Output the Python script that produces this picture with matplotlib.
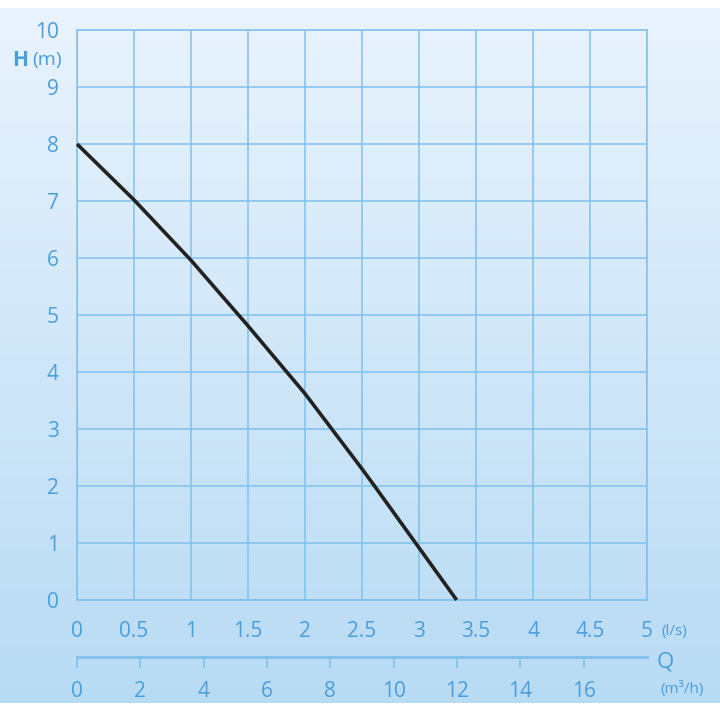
import numpy as np
import matplotlib.pyplot as plt
from matplotlib.colors import LinearSegmentedColormap

# pump curve
q_ls = [0, 0.5, 1.0, 1.5, 1.84, 2.0, 2.22, 2.5, 2.61, 2.97, 3.33]
h_m = [8.0, 7.02, 5.96, 4.81, 4.0, 3.62, 3.04, 2.3, 2.0, 1.0, 0.0]

ls_ticks = [0, 0.5, 1, 1.5, 2, 2.5, 3, 3.5, 4, 4.5, 5]
ls_labels = ['0', '0.5', '1', '1.5', '2', '2.5', '3', '3.5', '4', '4.5', '5']
m3h_ticks = [0, 2, 4, 6, 8, 10, 12, 14, 16]
h_ticks = list(range(0, 11))

grid_col = '#80c1ec'
text_col = '#4a9edc'
plt.rcParams['font.family'] = ['Open Sans', 'DejaVu Sans']

fig = plt.figure(figsize=(7.2, 7.2), dpi=100)
W = H = 720.0

# gradient background band
bg = fig.add_axes([0, 17 / H, 1, (712 - 17) / H])
cmap = LinearSegmentedColormap.from_list('bg', ['#b8dbf4', '#e9f3fd'])
bg.imshow(np.linspace(0, 1, 256).reshape(-1, 1), aspect='auto', cmap=cmap,
          origin='lower', extent=[0, 1, 0, 1])
bg.axis('off')

ax = fig.add_axes([77 / W, 120 / H, 570 / W, 570 / H])
ax.patch.set_alpha(0)
ax.set_xlim(0, 5)
ax.set_ylim(0, 10)
ax.set_xticks(ls_ticks)
ax.set_xticklabels(ls_labels)
ax.set_yticks(h_ticks)
ax.grid(True, color=grid_col, linewidth=1.1)
ax.set_axisbelow(True)
for s in ax.spines.values():
    s.set_color(grid_col)
    s.set_linewidth(1.1)
ax.tick_params(axis='x', length=0, pad=15, labelsize=15, labelcolor=text_col)
ax.tick_params(axis='y', length=0, pad=13, labelsize=15, labelcolor=text_col)

ax.plot(q_ls, h_m, color='#222222', linewidth=2.6, solid_capstyle='butt',
        solid_joinstyle='round', clip_on=False, zorder=5)

# second flow scale in m3/h
sec = ax.secondary_xaxis(-57 / 570, functions=(lambda x: x * 3.6, lambda x: x / 3.6))
sec.set_xticks(m3h_ticks)
sec.spines['bottom'].set_color(grid_col)
sec.spines['bottom'].set_linewidth(2)
sec.tick_params(axis='x', length=8, width=1.2, color=grid_col, pad=9,
                labelsize=15, labelcolor=text_col)

fig.text(661 / W, 1 - 632 / H, '(l/s)', fontsize=11, color=text_col, va='center')
fig.text(657 / W, 1 - 662 / H, 'Q', fontsize=16, color=text_col, va='center')
fig.text(660 / W, 1 - 689 / H, '(m\u00b3/h)', fontsize=11, color=text_col, va='center')
fig.text(12 / W, 1 - 60 / H, 'H', fontsize=15, fontweight='bold', color=text_col, va='center')
fig.text(32 / W, 1 - 60 / H, '(m)', fontsize=14, color=text_col, va='center')

fig.savefig('out.png', dpi=100)
